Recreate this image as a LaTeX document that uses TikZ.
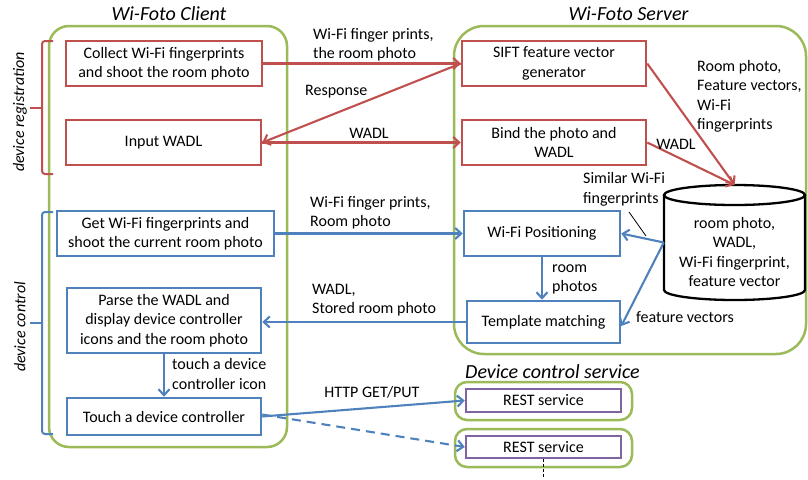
\documentclass[tikz,border=0pt]{standalone}
\usepackage{fontspec}
\setmainfont{Carlito}
\usetikzlibrary{arrows.meta,calc}
\definecolor{regred}{RGB}{192,80,77}
\definecolor{ctlblue}{RGB}{79,129,189}
\definecolor{grpgreen}{RGB}{155,187,89}
\definecolor{svcpurple}{RGB}{128,100,162}
\tikzset{
  redbox/.style={draw=regred, line width=2.5pt, align=center, inner sep=0pt},
  bluebox/.style={draw=ctlblue, line width=2.5pt, align=center, inner sep=0pt},
  purplebox/.style={draw=svcpurple, line width=2.5pt, align=center, inner sep=0pt},
  frame/.style={draw=grpgreen, line width=2.5pt, inner sep=0pt},
  redarr/.style={draw=regred, line width=2.1pt, -{Straight Barb[length=6pt,width=11pt]}},
  bluearr/.style={draw=ctlblue, line width=2.1pt, -{Straight Barb[length=6pt,width=11pt]}},
  lbl/.style={anchor=west, align=left, inner sep=0pt},
  title/.style={font=\fontsize{20}{24}\selectfont\itshape, inner sep=0pt},
  sidelbl/.style={font=\fontsize{16}{19.5}\selectfont\itshape, rotate=90, inner sep=0pt},
}
\begin{document}
\begin{tikzpicture}[x=1pt, y=-1pt, font=\fontsize{16}{19.5}\selectfont]
\useasboundingbox (0,0) rectangle (808,479);

% group frames
\node[frame, rounded corners=20pt, minimum width=238pt, minimum height=421pt] (client) at (168,236.5) {};
\node[frame, rounded corners=30pt, minimum width=352pt, minimum height=328pt] (server) at (630,190) {};
\node[frame, rounded corners=12pt, minimum width=177pt, minimum height=38pt] (svc1) at (543.5,401) {};
\node[frame, rounded corners=12pt, minimum width=177pt, minimum height=38pt] (svc2) at (543.5,448) {};

% titles
\node[title] (tclient) at (169,14) {Wi-Foto Client};
\node[title] (tserver) at (628.5,14) {Wi-Foto Server};
\node[title] (tsvc) at (552.5,372) {Device control service};

% client steps
\node[redbox, minimum width=196pt, minimum height=45pt] (collect) at (164,63.5) {Collect Wi-Fi fingerprints\\and shoot the room photo};
\node[redbox, minimum width=195pt, minimum height=45pt] (input) at (163.5,142.5) {Input WADL};
\node[bluebox, minimum width=217pt, minimum height=45pt] (getwifi) at (165.5,233.5) {Get Wi-Fi fingerprints and\\shoot the current room photo};
\node[bluebox, minimum width=194pt, minimum height=65pt] (parse) at (164,320.5) {Parse the WADL and\\display device controller\\icons and the room photo};
\node[bluebox, minimum width=194pt, minimum height=37pt] (touch) at (164,416.5) {Touch a device controller};

% server steps
\node[redbox, minimum width=184pt, minimum height=45pt] (sift) at (554,63.5) {SIFT feature vector\\generator};
\node[redbox, minimum width=184pt, minimum height=45pt] (bind) at (554,142.5) {Bind the photo and\\WADL};
\node[bluebox, minimum width=156pt, minimum height=45pt] (wifipos) at (542,233.5) {Wi-Fi Positioning};
\node[bluebox, minimum width=153pt, minimum height=42pt] (template) at (543.5,322) {Template matching};

% database cylinder
\node[minimum width=141pt, minimum height=115pt, inner sep=0pt] (db) at (734.5,242.5) {};
\draw[line width=2.3pt, fill=white] (664,195) -- (664,290)
  .. controls (664,295.5) and (695.6,300) .. (734.5,300)
  .. controls (773.4,300) and (805,295.5) .. (805,290) -- (805,195);
\draw[line width=2.3pt] (734.5,195) ellipse [x radius=70.5, y radius=10];
\node[align=center, inner sep=0pt] (dbtext) at (734.5,252) {room photo,\\WADL,\\Wi-Fi fingerprint,\\feature vector};

% REST services
\node[purplebox, minimum width=155pt, minimum height=23pt] (rest1) at (543.5,400.5) {REST service};
\node[purplebox, minimum width=155pt, minimum height=22pt] (rest2) at (543.5,447) {REST service};
\coordinate (more) at (543.5,479);
\draw[line width=0.8pt, dash pattern=on 3pt off 2pt] (rest2.south) -- (more);

% side brackets
\draw[regred, line width=2pt, rounded corners=3pt] (53,41) -- (42,41) -- (42,174) -- (53,174);
\draw[regred, line width=2pt] (42,108) -- (30,108);
\draw[ctlblue, line width=2pt, rounded corners=3pt] (53,212) -- (42,212) -- (42,434) -- (53,434);
\draw[ctlblue, line width=2pt] (42,323) -- (30,323);
\node[sidelbl] (lreg) at (20,112) {device registration};
\node[sidelbl] (lctl) at (20,327) {device control};

% registration flow
\draw[redarr] (collect.east) -- (sift.west);
\draw[redarr] (sift.west) -- (input.east);
\draw[redarr] (input.east) -- (bind.west);
\draw[redarr] (sift.east) -- (db.north);
\draw[redarr] (bind.east) -- (db.north);
\node[lbl] (l1) at (313,45) {Wi-Fi finger prints,\\the room photo};
\node[lbl] (l2) at (305,92) {Response};
\node[inner sep=0pt] (l3) at (369,133) {WADL};
\node[lbl] (l4) at (697,96.5) {Room photo,\\Feature vectors,\\Wi-Fi\\fingerprints};
\node[inner sep=0pt] (l5) at (676,144) {WADL};

% control flow
\draw[bluearr] (getwifi.east) -- (getwifi.east -| wifipos.west);
\draw[bluearr] (template.west) -- (template.west -| parse.east);
\draw[bluearr] (wifipos.south) -- (wifipos.south |- template.north);
\draw[bluearr] (db.west) -- (wifipos.east);
\draw[bluearr] (db.west) -- ([yshift=-4pt]template.east);
\draw[bluearr] (parse.south) -- (touch.north);
\draw[bluearr] (touch.east) -- (rest1.west);
\draw[bluearr, dash pattern=on 9pt off 6pt] ([yshift=2pt]touch.east) -- (rest2.west);
\node[lbl] (l6) at (310,213) {Wi-Fi finger prints,\\Room photo};
\node[lbl] (l7) at (312,300) {WADL,\\Stored room photo};
\node[lbl] (l8) at (552,279.5) {room\\photos};
\node[lbl] (l9) at (583,189.5) {Similar Wi-Fi\\fingerprints};
\coordinate (lead1) at (629,212);
\coordinate (lead2) at (646,236);
\draw[line width=0.8pt] (lead1) -- (lead2);
\node[lbl] (l10) at (636,317) {feature vectors};
\node[lbl] (l11) at (172,374) {touch a device\\controller icon};
\node[inner sep=0pt] (l12) at (372,392) {HTTP GET/PUT};
\end{tikzpicture}
\end{document}
